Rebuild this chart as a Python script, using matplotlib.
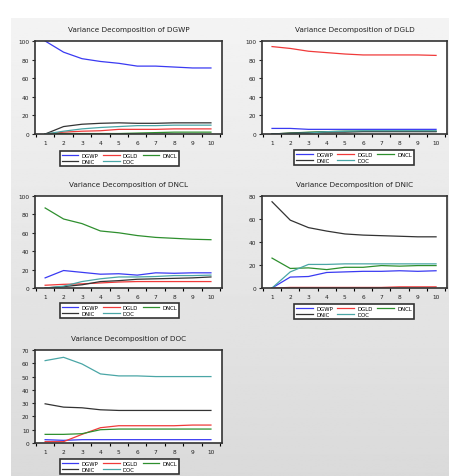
import matplotlib
matplotlib.use("Agg")
import matplotlib.pyplot as plt
import numpy as np

periods = list(range(1, 11))
names = ["DGWP", "DGLD", "DNCL", "DNIC", "DOC"]
colors = ["#3a3af2", "#f03a3a", "#2e8f2e", "#333333", "#4aa6a6"]

# variance decomposition tables (share of variance, %)
dgwp = {
    "DGWP": [100, 88, 81, 78, 76, 73, 73, 72, 71, 71],
    "DGLD": [0, 2, 3, 3.5, 5, 5, 5, 5.5, 5.5, 5.5],
    "DNCL": [0, 0.5, 0.5, 0.5, 0.5, 1, 1.5, 2, 2, 2],
    "DNIC": [0, 8, 10.5, 11.5, 12, 11.5, 11.5, 12, 12, 12],
    "DOC":  [0, 3, 5.5, 7, 8, 9, 9, 9.5, 9.5, 9.5],
}
dgld = {
    "DGWP": [6, 6, 5, 5, 5, 5, 5, 5, 5, 5],
    "DGLD": [94, 92, 89, 87.5, 86, 85, 85, 85, 85, 84.5],
    "DNCL": [0, 1, 2, 2.5, 3, 3, 3, 3, 3, 3],
    "DNIC": [0, 1, 1.5, 2, 2, 2.5, 2.5, 2.5, 2.5, 2.5],
    "DOC":  [0, 0.5, 1, 2.5, 3, 3.5, 3.5, 3.5, 3.5, 3.5],
}
dncl = {
    "DGWP": [11, 19, 17, 15, 15.5, 14, 16.5, 16, 16.5, 16.5],
    "DGLD": [3, 4, 4.5, 5.5, 6.5, 7, 7, 7, 7, 7],
    "DNCL": [87, 75, 70, 62, 60, 57, 55, 54, 53, 52.5],
    "DNIC": [0, 1.5, 3.5, 7, 8, 9.5, 10, 10.5, 11, 12],
    "DOC":  [0, 2, 7, 10, 12, 12, 12.5, 13.5, 13.5, 14],
}
dnic = {
    "DGWP": [0, 9.5, 10, 13.5, 14, 14.5, 14.5, 15, 14.5, 15],
    "DGLD": [0, 0.5, 0.5, 0.5, 0.5, 0.5, 0.5, 1, 1, 1],
    "DNCL": [26, 17, 17.5, 16, 18, 18, 19.5, 19, 19.5, 19.5],
    "DNIC": [75, 59, 52.5, 49.5, 47, 46, 45.5, 45, 44.5, 44.5],
    "DOC":  [0, 14, 20.5, 20.5, 21, 21, 21, 21, 21, 21],
}
doc = {
    "DGWP": [2.5, 2, 2.5, 2.5, 2.5, 2.5, 2.5, 2.5, 2.5, 2.5],
    "DGLD": [1, 1, 6.5, 11.5, 13, 13, 13, 13, 13.5, 13.5],
    "DNCL": [6.5, 6.5, 7, 10, 10.5, 10.5, 10.5, 10.5, 10.5, 10.5],
    "DNIC": [29.5, 27, 26.5, 25, 24.5, 24.5, 24.5, 24.5, 24.5, 24.5],
    "DOC":  [62, 64.5, 59.5, 52, 50.5, 50.5, 50, 50, 50, 50],
}

W, H = 449, 477
fig = plt.figure(figsize=(W / 100, H / 100), dpi=100)

# gray gradient backdrop
bg = fig.add_axes([11 / W, 0, 1 - 11 / W, 1 - 19 / H], zorder=-10)
grad = np.linspace(0.955, 0.855, 256).reshape(-1, 1)
bg.imshow(grad, aspect="auto", cmap="gray", vmin=0, vmax=1, extent=[0, 1, 0, 1])
bg.axis("off")

def px_axes(l, t, r, b):
    return fig.add_axes([l / W, 1 - b / H, (r - l) / W, (b - t) / H])

panels = [
    ("DGWP", dgwp, (35, 42, 222, 135), 100, 20, (119.5, 159.5)),
    ("DGLD", dgld, (262, 42, 447, 135), 100, 20, (354, 158.5)),
    ("DNCL", dncl, (35, 197, 222, 289), 100, 20, (119.5, 311.5)),
    ("DNIC", dnic, (262, 197, 447, 289), 80, 20, (354, 312.5)),
    ("DOC", doc, (35, 351, 222, 444), 70, 10, (119.5, 467.5)),
]

for title, table, box, ymax, ystep, legpos in panels:
    ax = px_axes(*box)
    lines = {}
    for name, c in zip(names, colors):
        ln, = ax.plot(periods, table[name], color=c, lw=0.9, label=name)
        lines[name] = ln
    ax.set_xlim(0.45, 10.6)
    ax.set_ylim(0, ymax)
    ax.set_yticks(np.arange(0, ymax + 1, ystep))
    ax.set_xticks(periods)
    ax.set_xticks(np.arange(0.5, 11, 1), minor=True)
    ax.tick_params(axis="x", which="major", length=0, labelsize=4.2, pad=4, colors="#222222")
    ax.tick_params(axis="x", which="minor", length=2.5, width=0.8, direction="out")
    ax.tick_params(axis="y", length=2.5, width=0.8, labelsize=4.2, pad=1.5, colors="#222222")
    for s in ax.spines.values():
        s.set_linewidth(1.2)
        s.set_color("#333333")
    ax.set_title("Variance Decomposition of " + title, fontsize=5.2, pad=7, color="#222222")
    order = ["DGWP", "DNIC", "DGLD", "DOC", "DNCL"]
    leg = ax.legend([lines[n] for n in order], order, ncol=3, loc="center",
                    bbox_to_anchor=(legpos[0] / W, 1 - legpos[1] / H),
                    bbox_transform=fig.transFigure, fontsize=3.9, handlelength=3.1,
                    columnspacing=0.8, handletextpad=0.6, labelspacing=0.15,
                    borderpad=0.35, fancybox=False, framealpha=1)
    leg.get_frame().set_edgecolor("#333333")
    leg.get_frame().set_linewidth(1.2)

fig.savefig("out.png", dpi=100)
